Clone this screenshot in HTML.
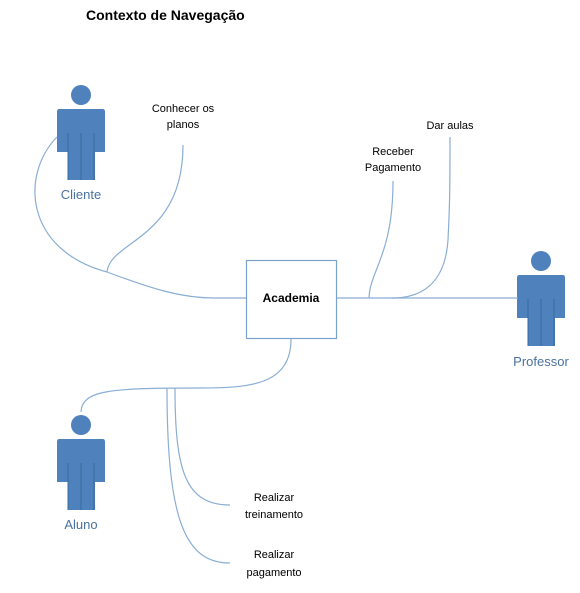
<!DOCTYPE html>
<html><head><meta charset="utf-8"><style>
body{margin:0;background:#fff;}
svg{display:block;font-family:"Liberation Sans",sans-serif;}
</style></head><body>
<svg width="580" height="593" viewBox="0 0 580 593">
<text x="86" y="20" font-size="14" font-weight="bold" fill="#000">Contexto de Navegação</text>
<defs>
<g id="actor" fill="#4f81bd">
<circle cx="0" cy="0" r="10"/>
<path d="M-22,14 H22 Q24,14 24,17 V57 H14 V85 H-13 V57 H-24 V17 Q-24,14 -22,14 Z"/>
<path d="M-13,38 V85 M0,38 V85 M13,38 V85" stroke="#3a6a9e" stroke-width="1" fill="none"/>
</g>
</defs>
<use href="#actor" x="81" y="95"/>
<use href="#actor" x="541" y="261"/>
<use href="#actor" x="81" y="425"/>
<g font-size="13" fill="#4a72a0" text-anchor="middle">
<text x="81" y="199">Cliente</text>
<text x="541" y="366">Professor</text>
<text x="81" y="529">Aluno</text>
</g>
<g fill="none" stroke="#8aaed4" stroke-width="1.2">
<path d="M57,137 C20,175 25,250 107,272 C150,288 180,298 215,298 L246,298"/>
<path d="M183,145 C183,240 110,240 107,272"/>
<path d="M337,298 L518,298"/>
<path d="M393,181 C393,255 370,270 369,298"/>
<path d="M450,137 C450,180 450,200 448,240 C445,285 420,298 392,298"/>
<path d="M291,339 C291,385 250,388 200,388 C110,388 82,390 81,412"/>
<path d="M175,388 C175,470 185,505 230,505"/>
<path d="M167,388 C167,520 185,563 230,563"/>
</g>
<rect x="246.5" y="260.5" width="90" height="78" fill="#fff" stroke="#7aa2cc" stroke-width="1.2"/>
<text x="291" y="302" font-size="12" font-weight="bold" text-anchor="middle">Academia</text>
<g font-size="11" fill="#000" text-anchor="middle">
<text x="183" y="112">Conhecer os</text>
<text x="183" y="128">planos</text>
<text x="393" y="155">Receber</text>
<text x="393" y="171">Pagamento</text>
<text x="450" y="129">Dar aulas</text>
<text x="274" y="501">Realizar</text>
<text x="274" y="518">treinamento</text>
<text x="274" y="558">Realizar</text>
<text x="274" y="576">pagamento</text>
</g>
</svg>
</body></html>
